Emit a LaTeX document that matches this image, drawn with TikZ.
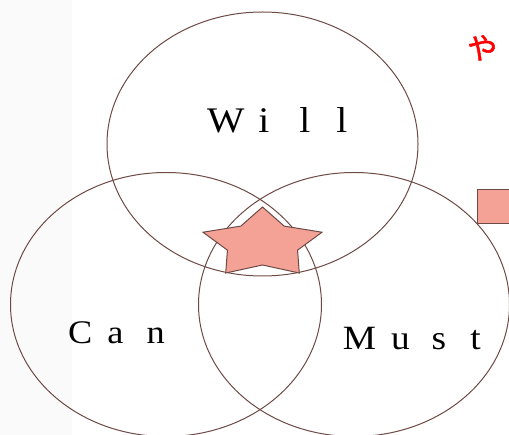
\documentclass[tikz,border=0pt]{standalone}
\usepackage{fontspec}
\setmainfont{Liberation Serif}
\newfontfamily\widefont[FakeStretch=1.1]{Liberation Serif}
\newfontfamily\jpfont[FakeBold=1.5]{Noto Sans CJK JP}
\usetikzlibrary{shapes.geometric}
\definecolor{vennline}{HTML}{6E4A46}
\definecolor{salmon}{HTML}{F4A196}
\definecolor{panelgray}{HTML}{FAFAFA}

\begin{document}
\begin{tikzpicture}[
    x=1pt, y=-1pt,
    venn/.style={ellipse, draw=vennline, line width=1pt, inner sep=0pt,
      minimum width=311pt, minimum height=264pt},
    word/.style={anchor=base west, inner sep=0pt, text=black},
    shapefill/.style={fill=salmon, draw=vennline, line width=1pt},
  ]
  \useasboundingbox (0,0) rectangle (509,435);
  \clip (0,0) rectangle (509,435);

  % Background strip
  \fill[panelgray] (0,0) rectangle (72,435);

  % Three sets
  \node[venn] (will) at (262.5,144) {};
  \node[venn] (can)  at (166,304.5) {};
  \node[venn] (must) at (354,304.5) {};

  % Set labels
  \node[word, font=\widefont\fontsize{36}{38}\selectfont] (willtext) at (206.8,133)
    {W\hspace{14pt}i\hspace{30pt}l\hspace{26pt}l};
  \node[word, font=\widefont\fontsize{33}{35}\selectfont] (cantext) at (68,344)
    {C\hspace{15pt}a\hspace{23pt}n};
  \node[word, font=\widefont\fontsize{34}{36}\selectfont] (musttext) at (342.6,350)
    {M\hspace{15pt}u\hspace{22pt}s\hspace{24pt}t};

  % Star in the middle
  \begin{scope}[shift={(262.5,243.5)}, xscale=1.715]
    \draw[shapefill] (-90:36.5)
      \foreach \k in {0,...,4} {-- ({-90+72*\k}:36.5) -- ({-54+72*\k}:21.5)}
      -- cycle;
  \end{scope}

  % Right edge
  \node[shapefill, anchor=north west, minimum width=45pt, minimum height=34pt,
    inner sep=0pt] (box) at (477,189) {};
  \node[font=\jpfont\fontsize{30}{30}\selectfont, text=red, rotate=-10,
    inner sep=0pt] (ya) at (482,48) {や};
\end{tikzpicture}
\end{document}
